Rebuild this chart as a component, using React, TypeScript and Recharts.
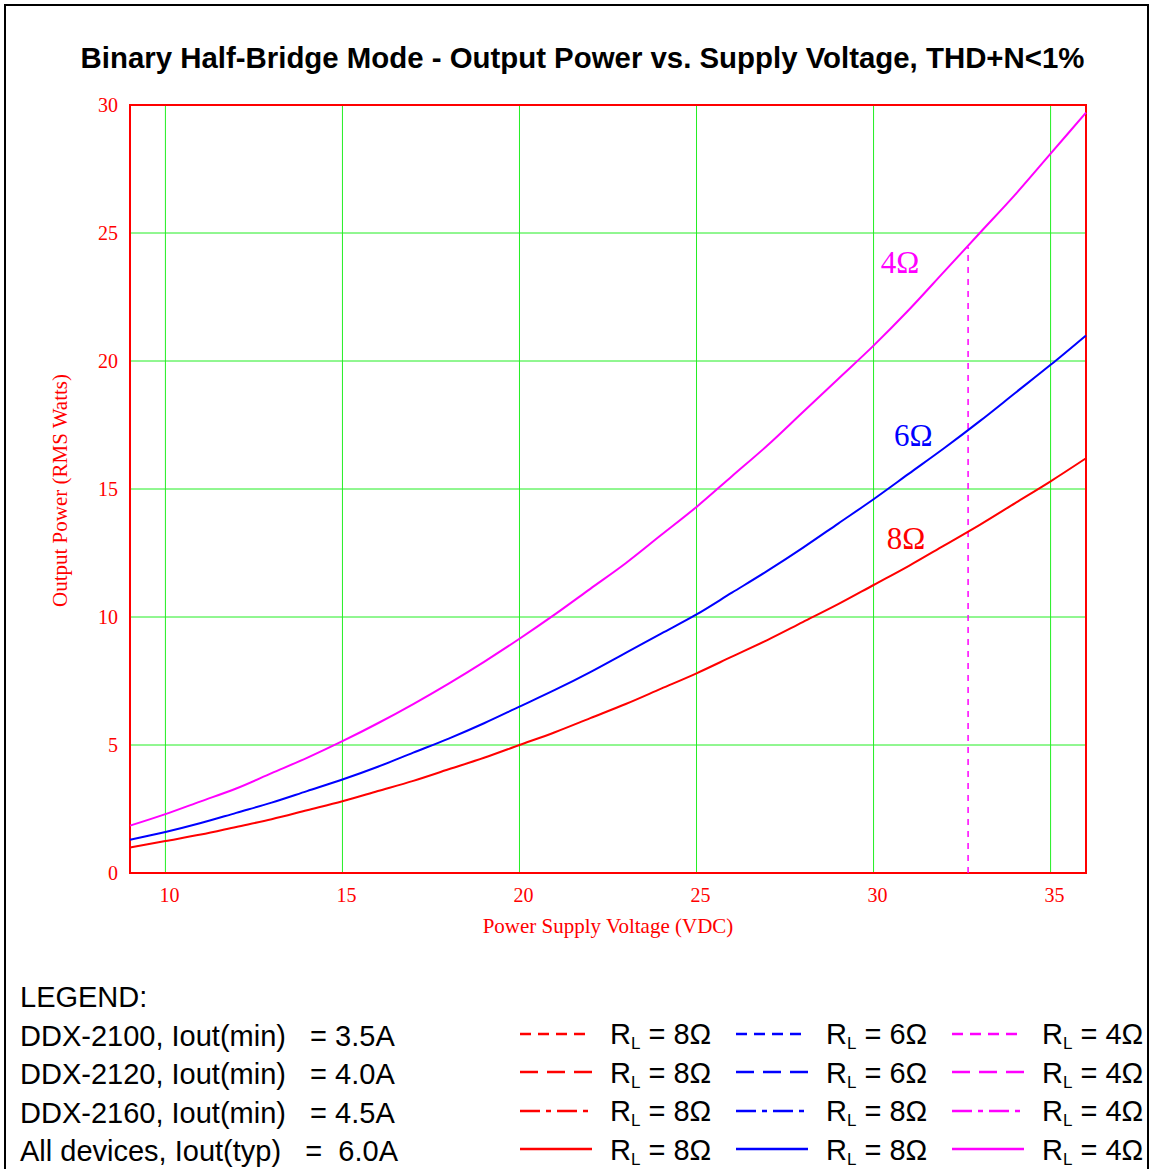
import React from "react";
import {
  LineChart,
  Line,
  XAxis,
  YAxis,
  CartesianGrid,
  ReferenceArea,
  ReferenceLine,
  ReferenceDot,
} from "recharts";

// Supply voltage (VDC) sample points
const voltage = [
  9, 10, 11, 12, 13, 14, 15, 16, 17, 18, 19, 20, 21, 22, 23, 24, 25, 26, 27, 28,
  29, 30, 31, 32, 33, 34, 35, 36,
];

// Output power (RMS W)
const power4 = [
  1.85, 2.3, 2.8, 3.3, 3.9, 4.5, 5.15, 5.85, 6.6, 7.4, 8.25, 9.15, 10.1, 11.1,
  12.1, 13.2, 14.3, 15.5, 16.7, 18.0, 19.3, 20.6, 22.0, 23.5, 25.0, 26.5, 28.1,
  29.7,
];
const power6 = [
  1.3, 1.6, 1.95, 2.35, 2.75, 3.2, 3.65, 4.15, 4.7, 5.25, 5.85, 6.5, 7.15, 7.85,
  8.6, 9.35, 10.1, 10.95, 11.8, 12.7, 13.65, 14.6, 15.6, 16.6, 17.65, 18.75,
  19.85, 21.0,
];
const power8 = [
  1.0, 1.25, 1.5, 1.8, 2.1, 2.45, 2.8, 3.2, 3.6, 4.05, 4.5, 5.0, 5.5, 6.05, 6.6,
  7.2, 7.8, 8.45, 9.1, 9.8, 10.5, 11.25, 12.0, 12.8, 13.6, 14.45, 15.3, 16.2,
];

const xTicks = [10, 15, 20, 25, 30, 35];
const yTicks = [0, 5, 10, 15, 20, 25, 30];

// marker at the 6.0A limit for 4 ohm
const limitV = 32.67;
const limitP = 24.45;

// curve name labels
const curveLabels = [
  { text: "4Ω", x: 30.75, y: 23.85, color: "#ff00ff" },
  { text: "6Ω", x: 31.12, y: 17.1, color: "#0000ff" },
  { text: "8Ω", x: 30.92, y: 13.1, color: "#ff0000" },
];

const legendDevices = [
  "DDX-2100, Iout(min)   = 3.5A",
  "DDX-2120, Iout(min)   = 4.0A",
  "DDX-2160, Iout(min)   = 4.5A",
  "All devices, Iout(typ)   =  6.0A",
];

const legendDashes = ["11 7", "18 9", "20 6 5 6", ""];
const legendColumns = [
  { color: "#ff0000", loads: ["8Ω", "8Ω", "8Ω", "8Ω"] },
  { color: "#0000ff", loads: ["6Ω", "6Ω", "8Ω", "8Ω"] },
  { color: "#ff00ff", loads: ["4Ω", "4Ω", "4Ω", "4Ω"] },
];

const data = voltage.map((v, i) => ({
  v,
  p4: power4[i],
  p6: power6[i],
  p8: power8[i],
}));

const serif = "'Liberation Serif', 'Times New Roman', serif";
const sans = "'Liberation Sans', Arial, sans-serif";

export default function App() {
  return (
    <div
      style={{
        position: "absolute",
        left: 0,
        top: 0,
        width: 1151,
        height: 1169,
        overflow: "hidden",
        background: "#fff",
      }}
    >
      {/* outer frame */}
      <div
        style={{
          position: "absolute",
          left: 4,
          top: 4,
          width: 1141,
          height: 1200,
          borderLeft: "2px solid #000",
          borderTop: "2px solid #000",
          borderRight: "2px solid #000",
        }}
      />
      <div
        style={{
          position: "absolute",
          top: 41,
          left: 0,
          width: 1165,
          textAlign: "center",
          fontFamily: sans,
          fontWeight: "bold",
          fontSize: 29.4,
          color: "#000",
          whiteSpace: "nowrap",
        }}
      >
        Binary Half-Bridge Mode - Output Power vs. Supply Voltage, THD+N&lt;1%
      </div>

      <div style={{ position: "absolute", left: 0, top: 0 }}>
        <LineChart
          width={1151}
          height={960}
          data={data}
          margin={{ top: 105, right: 65, left: 70, bottom: 57 }}
        >
          <CartesianGrid stroke="#22ee22" strokeWidth={1} fill="none" />
          <XAxis
            dataKey="v"
            type="number"
            domain={[9, 36]}
            ticks={xTicks}
            height={30}
            axisLine={false}
            tickLine={false}
            tick={{ fill: "#ff0000", fontSize: 20, fontFamily: serif, dx: 4 }}
            tickMargin={9}
            label={{
              value: "Power Supply Voltage (VDC)",
              position: "insideBottom",
              offset: -30,
              fill: "#ff0000",
              fontSize: 21,
              fontFamily: serif,
            }}
          />
          <YAxis
            type="number"
            domain={[0, 30]}
            ticks={yTicks}
            width={60}
            axisLine={false}
            tickLine={false}
            tick={{ fill: "#ff0000", fontSize: 20, fontFamily: serif }}
            tickMargin={6}
            label={{
              value: "Output Power (RMS Watts)",
              angle: -90,
              position: "insideLeft",
              offset: -10,
              dy: 118,
              fill: "#ff0000",
              fontSize: 21,
              fontFamily: serif,
            }}
          />
          <ReferenceArea
            x1={9}
            x2={36}
            y1={0}
            y2={30}
            stroke="#ff0000"
            strokeWidth={2}
            fill="none"
            fillOpacity={0}
          />
          <ReferenceLine
            segment={[
              { x: limitV, y: 0 },
              { x: limitV, y: limitP },
            ]}
            stroke="#ff00ff"
            strokeWidth={1.5}
            strokeDasharray="6 6"
          />
          <Line
            type="monotone"
            dataKey="p8"
            stroke="#ff0000"
            strokeWidth={2}
            dot={false}
            isAnimationActive={false}
          />
          <Line
            type="monotone"
            dataKey="p6"
            stroke="#0000ff"
            strokeWidth={2}
            dot={false}
            isAnimationActive={false}
          />
          <Line
            type="monotone"
            dataKey="p4"
            stroke="#ff00ff"
            strokeWidth={2}
            dot={false}
            isAnimationActive={false}
          />
          {curveLabels.map((c) => (
            <ReferenceDot
              key={c.text}
              x={c.x}
              y={c.y}
              r={0}
              fill="none"
              stroke="none"
              label={{
                value: c.text,
                position: "center",
                fill: c.color,
                fontSize: 31,
                fontFamily: serif,
              }}
            />
          ))}
        </LineChart>
      </div>

      {/* legend */}
      <div
        style={{
          position: "absolute",
          left: 20,
          top: 978,
          fontFamily: sans,
          fontSize: 29,
          color: "#000",
          lineHeight: "38.5px",
          whiteSpace: "pre",
        }}
      >
        <div>LEGEND:</div>
        {legendDevices.map((d) => (
          <div key={d}>{d}</div>
        ))}
      </div>
      {legendColumns.map((col, ci) => (
        <div
          key={ci}
          style={{
            position: "absolute",
            left: 520 + ci * 216,
            top: 1017.5,
            fontFamily: sans,
            fontSize: 29,
            color: "#000",
            whiteSpace: "nowrap",
          }}
        >
          {col.loads.map((load, ri) => (
            <div
              key={ri}
              style={{
                display: "flex",
                alignItems: "center",
                height: 38.5,
                lineHeight: "38.5px",
              }}
            >
              <svg width={82} height={20} style={{ marginRight: 8, flex: "none" }}>
                <line
                  x1={0}
                  y1={7}
                  x2={72}
                  y2={7}
                  stroke={col.color}
                  strokeWidth={2.5}
                  strokeDasharray={legendDashes[ri] || undefined}
                />
              </svg>
              <span>
                R
                <span style={{ fontSize: 17, position: "relative", top: 5 }}>L</span>{" "}
                = {load}
              </span>
            </div>
          ))}
        </div>
      ))}
    </div>
  );
}
